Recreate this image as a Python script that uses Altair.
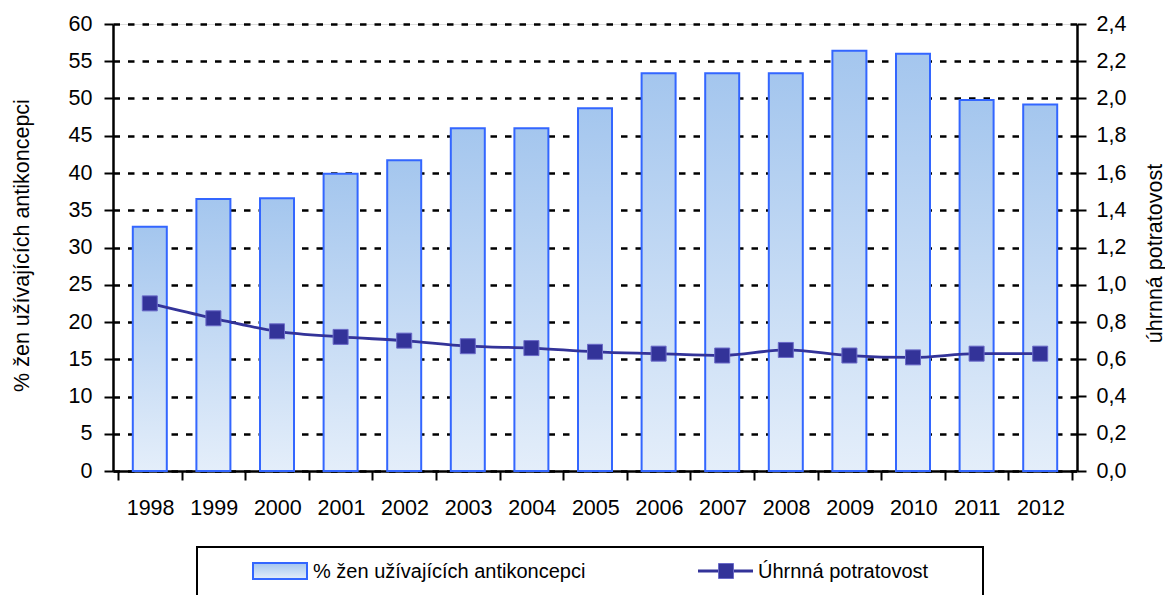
import altair as alt
import pandas as pd

years = list(range(1998, 2013))
contraception = [32.8, 36.5, 36.6, 39.9, 41.7, 46.0, 46.0, 48.7, 53.4, 53.4, 53.4, 56.4, 56.0, 49.8, 49.2]
abortion = [0.90, 0.82, 0.75, 0.72, 0.70, 0.67, 0.66, 0.64, 0.63, 0.62, 0.65, 0.62, 0.61, 0.63, 0.63]
series_names = ["% žen užívajících antikoncepci", "Úhrnná potratovost"]
left_title = "% žen užívajících antikoncepci"
right_title = "úhrnná potratovost"
x_tick_positions = [y - 0.5 for y in years] + [years[-1] + 0.5]
left_ticks = list(range(0, 65, 5))
right_ticks = [round(i * 0.2, 1) for i in range(13)]

df = pd.DataFrame({"year": years, "contra": contraception, "abort": abortion})
dummy = pd.DataFrame({"a": [0]})

FONT = "Liberation Sans"
BAR_STROKE = "#3366ff"
LINE_COLOR = "#333399"
TICK_FS = 21.5

grad = alt.LinearGradient(
    gradient="linear",
    stops=[alt.GradientStop(color="#e4eefa", offset=0), alt.GradientStop(color="#a4c6ee", offset=1)],
    x1=0, x2=0, y1=1, y2=0,
)

xscale = alt.Scale(domain=[1997.5, 2012.5], nice=False, zero=False)
xaxis = alt.Axis(
    values=x_tick_positions, title=None, grid=False,
    labelExpr="datum.value > 2012 ? '' : format(datum.value + 0.5, 'd')",
    labelOffset=32.13, labelOverlap=False, labelFlush=False, labelBound=False,
    labelFontSize=TICK_FS, labelFont=FONT, labelColor="black", labelPadding=17,
    tickSize=9, tickWidth=2, tickColor="black", domainColor="black", domainWidth=2.5,
)

bars = alt.Chart(df).mark_bar(size=34, fill=grad, stroke=BAR_STROKE, strokeWidth=2).encode(
    x=alt.X("year:Q", scale=xscale, axis=xaxis),
    y=alt.Y("contra:Q", scale=alt.Scale(domain=[0, 60], nice=False),
            axis=alt.Axis(values=left_ticks, title=left_title, grid=True, gridColor="black",
                          gridWidth=2.5, gridDash=[6.5, 8], tickSize=9, tickWidth=2, tickColor="black",
                          domainColor="black", domainWidth=2.5, labelFontSize=TICK_FS, labelFont=FONT,
                          labelColor="black", labelPadding=12, titleFontSize=21.5, titleFont=FONT,
                          titleFontWeight="normal", titleColor="black", titleX=-91, titleY=221,
                          titleAngle=270, titleBaseline="middle", titleAlign="center")),
)

right_axis = alt.Axis(values=right_ticks, orient="right", title=right_title, grid=False,
                      labelExpr="replace(format(datum.value, '.1f'), '.', ',')",
                      tickSize=9, tickWidth=2, tickColor="black", domainColor="black", domainWidth=2.5,
                      labelFontSize=TICK_FS, labelFont=FONT, labelColor="black", labelPadding=10,
                      titleFontSize=21.5, titleFont=FONT, titleFontWeight="normal", titleColor="black",
                      titleX=78, titleY=229, titleAngle=270, titleBaseline="middle", titleAlign="center")

yr = alt.Y("abort:Q", scale=alt.Scale(domain=[0, 2.4], nice=False), axis=right_axis)
line = alt.Chart(df).mark_line(interpolate="monotone", color=LINE_COLOR, strokeWidth=2.8).encode(
    x=alt.X("year:Q", scale=xscale), y=yr)
points = alt.Chart(df).mark_point(shape="square", filled=True, size=225, color=LINE_COLOR,
                                  stroke="#6a6ac8", strokeWidth=1, opacity=1).encode(
    x=alt.X("year:Q", scale=xscale), y=alt.Y("abort:Q", scale=alt.Scale(domain=[0, 2.4], nice=False), axis=None))

# legend (manual)
leg_box = alt.Chart(dummy).mark_rect(fill="white", stroke="black", strokeWidth=2).encode(
    x=alt.value(84), x2=alt.value(870), y=alt.value(523), y2=alt.value(620))
leg_sw = alt.Chart(dummy).mark_rect(fill=grad, stroke=BAR_STROKE, strokeWidth=2).encode(
    x=alt.value(140), x2=alt.value(194), y=alt.value(539), y2=alt.value(555))
leg_t1 = alt.Chart(dummy).mark_text(align="left", baseline="middle", fontSize=20, font=FONT, color="black").encode(
    x=alt.value(200), y=alt.value(548), text=alt.value(series_names[0]))
leg_line = alt.Chart(dummy).mark_rule(color=LINE_COLOR, strokeWidth=2.8).encode(
    x=alt.value(585), x2=alt.value(640), y=alt.value(547))
leg_pt = alt.Chart(dummy).mark_point(shape="square", filled=True, size=225, color=LINE_COLOR,
                                     stroke="#6a6ac8", strokeWidth=1, opacity=1).encode(
    x=alt.value(613), y=alt.value(547))
leg_t2 = alt.Chart(dummy).mark_text(align="left", baseline="middle", fontSize=20, font=FONT, color="black").encode(
    x=alt.value(645), y=alt.value(548), text=alt.value(series_names[1]))

chart = alt.layer(bars, line, points, leg_box, leg_sw, leg_t1, leg_line, leg_pt, leg_t2).resolve_scale(
    y="independent"
).properties(
    width=964, height=447,
    autosize=alt.AutoSizeParams(type="none"),
    padding={"left": 105, "top": 16, "right": 88, "bottom": 140},
).configure_view(stroke="black", strokeWidth=2.5).configure(background="white")

chart.save("out.html", embed_options={"renderer": "svg", "actions": False})
